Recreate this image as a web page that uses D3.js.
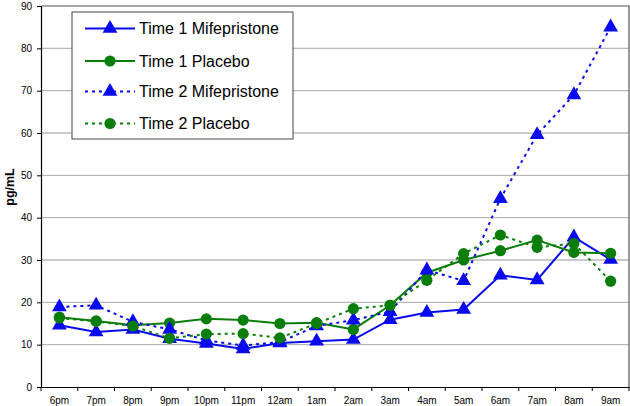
<!DOCTYPE html>
<html><head><meta charset="utf-8">
<script src="https://cdn.jsdelivr.net/npm/d3@7"></script>
<style>
html,body{margin:0;padding:0;background:#fff;}
svg{display:block;font-family:"Liberation Sans",Arial,sans-serif;}
</style></head>
<body>
<svg id="chart" width="630" height="406"></svg>
<script>
const categories = ["6pm","7pm","8pm","9pm","10pm","11pm","12am","1am","2am","3am","4am","5am","6am","7am","8am","9am"];
const time1Mife    = [14.6,13.0,13.6,11.4,10.3, 9.0,10.4,10.8,11.2,15.9,17.6,18.3,26.4,25.3,35.4,30.1];
const time1Placebo = [16.5,15.6,14.6,15.1,16.1,15.8,15.0,15.2,13.6,19.3,27.0,30.0,32.2,34.7,31.8,31.6];
const time2Mife    = [18.9,19.3,15.4,13.6,11.0, 9.8,10.6,14.4,15.8,17.8,27.6,25.1,44.5,59.6,69.0,85.0];
const time2Placebo = [16.3,15.5,14.4,11.5,12.5,12.6,11.6,15.0,18.5,19.3,25.2,31.5,35.9,33.0,33.9,25.0];
const yTicks = [0,10,20,30,40,50,60,70,80,90];
const seriesNames = ["Time 1 Mifepristone","Time 1 Placebo","Time 2 Mifepristone","Time 2 Placebo"];

const series = [
  {name: seriesNames[0], values: time1Mife,    color: "#0a0aee", dash: null,  marker: "triangle"},
  {name: seriesNames[1], values: time1Placebo, color: "#0a7d0a", dash: null,  marker: "circle"},
  {name: seriesNames[2], values: time2Mife,    color: "#0a0aee", dash: "3,4", marker: "triangle"},
  {name: seriesNames[3], values: time2Placebo, color: "#0a7d0a", dash: "3,4", marker: "circle"}
];

const svg = d3.select("#chart");
const m = {left: 41, right: 629, top: 6, bottom: 387};

const x = d3.scaleBand().domain(categories).range([m.left, m.right]);
const y = d3.scaleLinear().domain([0, 90]).range([m.bottom, m.top]);

// gridlines
svg.append("g").selectAll("line").data(yTicks.filter(t => t > 0 && t < 90)).join("line")
  .attr("x1", m.left).attr("x2", m.right)
  .attr("y1", d => y(d)).attr("y2", d => y(d))
  .attr("stroke", "#b8b8b8").attr("stroke-width", 1.3);

// frame top/right
svg.append("path")
  .attr("d", `M${m.left},${m.top}H${m.right}V${m.bottom}`)
  .attr("fill", "none").attr("stroke", "#555").attr("stroke-width", 1.2);

// y axis
const yAxis = svg.append("g").attr("transform", `translate(${m.left},0)`)
  .call(d3.axisLeft(y).tickValues(yTicks).tickSize(4).tickPadding(5));
yAxis.select(".domain").attr("stroke", "#000").attr("stroke-width", 1.2);
yAxis.selectAll(".tick line").attr("stroke", "#000");
yAxis.selectAll("text").attr("font-size", 10).attr("fill", "#000")
  .attr("font-family", "Liberation Sans, Arial, sans-serif");

// x axis
const xAxis = svg.append("g").attr("transform", `translate(0,${m.bottom})`)
  .call(d3.axisBottom(x).tickSize(0).tickPadding(10));
xAxis.select(".domain").attr("stroke", "#000").attr("stroke-width", 1.2);
xAxis.selectAll("text").attr("font-size", 10).attr("fill", "#000")
  .attr("font-family", "Liberation Sans, Arial, sans-serif");
// boundary tick marks
const bounds = categories.map(c => x(c)).concat([x(categories[categories.length-1]) + x.bandwidth()]);
svg.append("g").selectAll("line").data(bounds).join("line")
  .attr("x1", d => d).attr("x2", d => d)
  .attr("y1", m.bottom).attr("y2", m.bottom + 4)
  .attr("stroke", "#000").attr("stroke-width", 1);

// y label
svg.append("text")
  .attr("transform", `translate(14,187) rotate(-90)`)
  .attr("text-anchor", "middle")
  .attr("font-size", 12.5).attr("font-weight", "bold")
  .text("pg/mL");

const cx = c => x(c) + x.bandwidth() / 2;
const line = d3.line().x((d, i) => cx(categories[i])).y(d => y(d));
const triSym = d3.symbol().type(d3.symbolTriangle).size(95);

function drawMarker(g, type, color, px, py) {
  if (type === "triangle") {
    g.append("path").attr("d", triSym()).attr("transform", `translate(${px},${py})`)
      .attr("fill", color);
  } else {
    g.append("circle").attr("cx", px).attr("cy", py).attr("r", 5.6).attr("fill", color);
  }
}

series.forEach(s => {
  const g = svg.append("g");
  g.append("path").datum(s.values).attr("d", line)
    .attr("fill", "none").attr("stroke", s.color).attr("stroke-width", 2)
    .attr("stroke-dasharray", s.dash);
  s.values.forEach((v, i) => drawMarker(g, s.marker, s.color, cx(categories[i]), y(v)));
});

// legend
const lg = svg.append("g");
lg.append("rect").attr("x", 72).attr("y", 12).attr("width", 221).attr("height", 127)
  .attr("fill", "#fff").attr("stroke", "#444").attr("stroke-width", 1);
const legendY = [28.5, 61, 91.5, 123.5];
series.forEach((s, i) => {
  const yy = legendY[i];
  lg.append("line").attr("x1", 85).attr("x2", 135).attr("y1", yy).attr("y2", yy)
    .attr("stroke", s.color).attr("stroke-width", 2).attr("stroke-dasharray", s.dash);
  drawMarker(lg, s.marker, s.color, 110, yy);
  lg.append("text").attr("x", 139).attr("y", yy).attr("dy", "0.35em")
    .attr("font-size", 16).attr("fill", "#000").text(s.name);
});
</script>
</body></html>
